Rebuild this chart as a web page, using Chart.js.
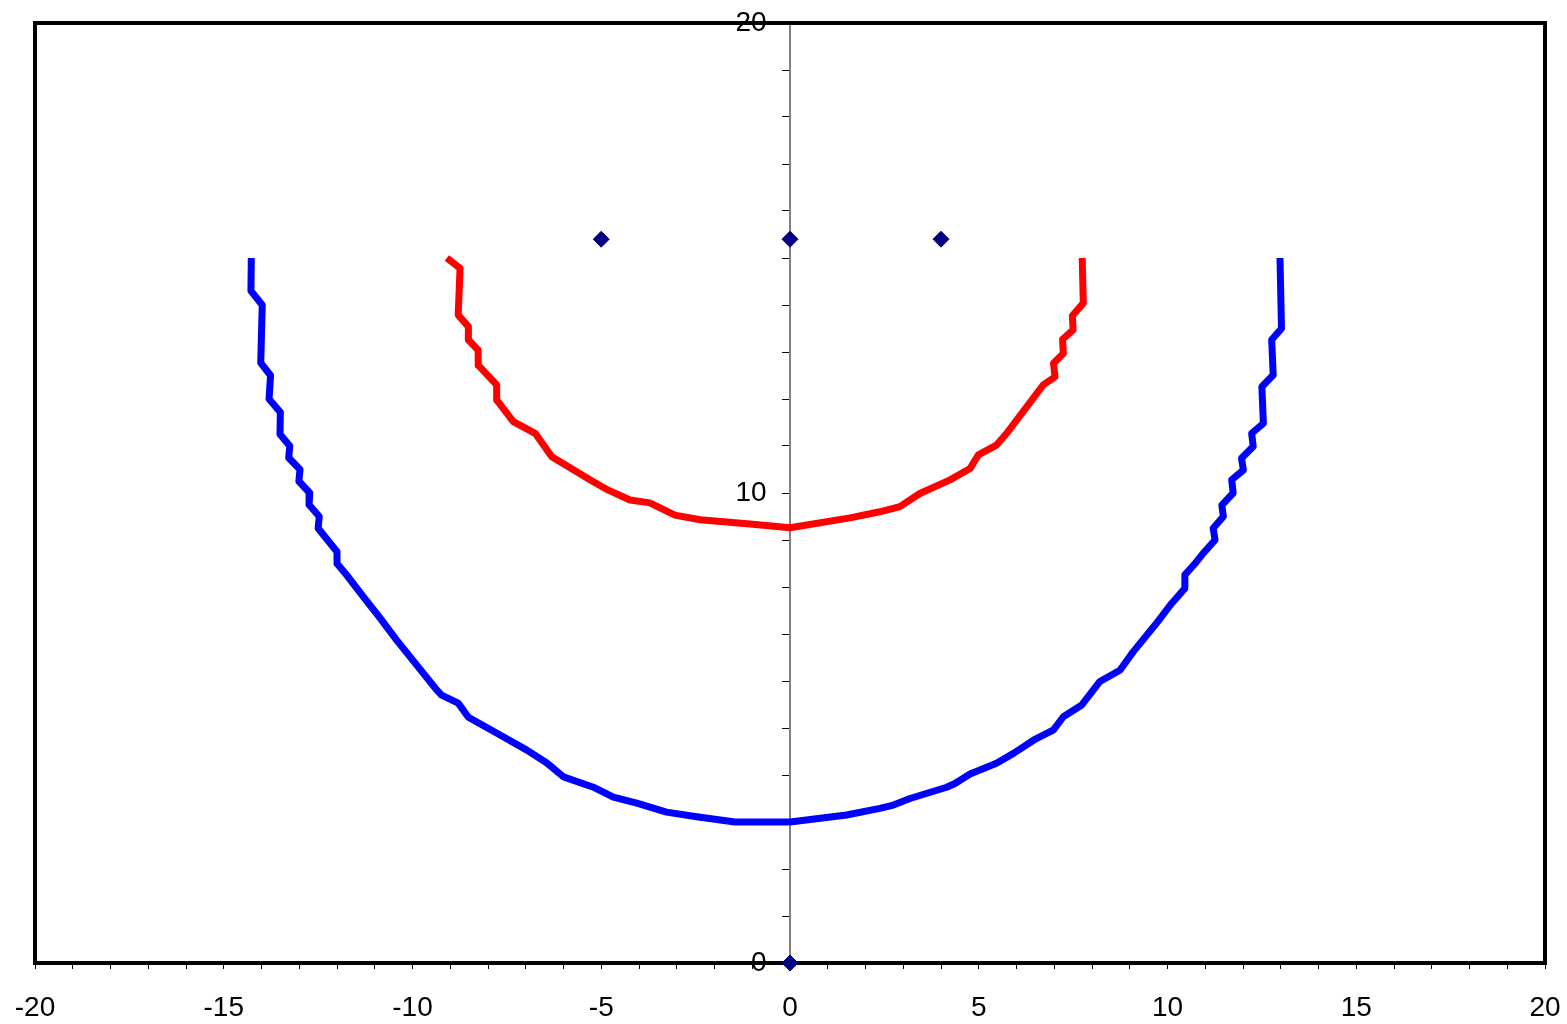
<!DOCTYPE html>
<html>
<head>
<meta charset="utf-8">
<script src="https://cdn.jsdelivr.net/npm/chart.js@4/dist/chart.umd.min.js"></script>
<style>
    body { margin: 0; background: #fff; }
    canvas { display: block; }
</style>
</head>
<body>
<canvas id="chart" width="1567" height="1024"></canvas>
<script>
// outer (blue) curve
let blueX = [
    -14.27, -14.28, -13.98, -14.02, -13.76, -13.80, -13.50, -13.51, -13.25, -13.28,
    -12.98, -13.01, -12.72, -12.74, -12.47, -12.50, -12.00, -12.00, -11.74, -11.31,
    -10.86, -10.42, -9.93, -9.40, -9.23, -8.79, -8.52, -7.68, -6.97, -6.45,
    -6.00, -5.21, -4.68, -4.06, -3.27, -2.47, -1.46, 0, 1.50, 2.38,
    2.74, 3.18, 4.15, 4.37, 4.77, 5.47, 5.92, 6.45, 6.98, 7.24,
    7.73, 8.21, 8.74, 9.09, 9.67, 10.11, 10.46, 10.46, 10.73, 10.95,
    11.26, 11.21, 11.48, 11.44, 11.74, 11.70, 12.01, 11.96, 12.27, 12.23,
    12.54, 12.50, 12.80, 12.76, 13.02, 12.98
];
let blueY = [
    15.0, 14.3, 14.0, 12.77, 12.5, 12.0, 11.72, 11.25, 11.0, 10.75,
    10.5, 10.25, 10.0, 9.75, 9.5, 9.25, 8.75, 8.5, 8.25, 7.8,
    7.34, 6.87, 6.38, 5.85, 5.7, 5.53, 5.23, 4.85, 4.53, 4.26,
    3.96, 3.74, 3.53, 3.4, 3.21, 3.11, 3.0, 3.0, 3.15, 3.29,
    3.36, 3.5, 3.74, 3.82, 4.02, 4.25, 4.46, 4.74, 4.96, 5.24,
    5.49, 5.99, 6.23, 6.62, 7.19, 7.65, 7.97, 8.26, 8.5, 8.72,
    9.0, 9.25, 9.5, 9.74, 10.0, 10.28, 10.49, 10.74, 10.99, 11.27,
    11.48, 12.26, 12.51, 13.26, 13.5, 15.0
];

// inner (red) curve
let redX = [
    -9.09, -8.74, -8.79, -8.52, -8.52, -8.26, -8.26, -7.77, -7.77, -7.33,
    -6.75, -6.31, -5.21, -4.81, -4.24, -3.71, -3.05, -2.38, -1.06, 0,
    1.59, 2.38, 2.91, 3.44, 4.24, 4.77, 4.99, 5.47, 5.74, 6.71,
    7.02, 6.98, 7.24, 7.22, 7.50, 7.48, 7.77, 7.74
];
let redY = [
    15.0, 14.78, 13.79, 13.54, 13.26, 13.04, 12.72, 12.3, 11.98, 11.52,
    11.27, 10.77, 10.24, 10.06, 9.85, 9.79, 9.53, 9.43, 9.34, 9.26,
    9.47, 9.6, 9.71, 9.99, 10.28, 10.52, 10.81, 11.02, 11.27, 12.3,
    12.47, 12.76, 12.97, 13.27, 13.47, 13.77, 14.04, 15.0
];

// single markers
let markX = [-5, 0, 4, 0];
let markY = [15.4, 15.4, 15.4, 0];

// axis ranges and labelled ticks
let xMin = -20, xMax = 20, xLabelStep = 5;
let yMin = 0, yMax = 20, yLabelStep = 10;

function toPoints(xs, ys) {
    let pts = [];
    for (let i = 0; i < xs.length; i++) {
        pts.push({x: xs[i], y: ys[i]});
    }
    return pts;
}

// thick black box around the plot area
const frame = {
    id: 'frame',
    beforeDatasetsDraw(chart) {
        let a = chart.chartArea;
        let ctx = chart.ctx;
        ctx.save();
        ctx.strokeStyle = '#000';
        ctx.lineWidth = 4;
        ctx.strokeRect(a.left, a.top, a.right - a.left, a.bottom - a.top);
        ctx.restore();
    }
};

Chart.defaults.font.family = '"Liberation Sans", Arial, sans-serif';
Chart.defaults.font.size = 28;
Chart.defaults.color = '#000';

let ctx = document.getElementById('chart').getContext('2d');
let chart = new Chart(ctx, {
    type: 'scatter',
    data: {
        datasets: [{
            data: toPoints(blueX, blueY),
            showLine: true,
            borderColor: '#0000ff',
            borderWidth: 7,
            borderJoinStyle: 'round',
            pointRadius: 0,
            tension: 0
        }, {
            data: toPoints(redX, redY),
            showLine: true,
            borderColor: '#ff0000',
            borderWidth: 7,
            borderJoinStyle: 'round',
            pointRadius: 0,
            tension: 0
        }, {
            data: toPoints(markX, markY),
            showLine: false,
            pointStyle: 'rectRot',
            pointRadius: 8,
            pointBorderWidth: 1,
            pointBackgroundColor: '#000080',
            pointBorderColor: '#000080',
            clip: false
        }]
    },
    options: {
        responsive: false,
        animation: false,
        events: [],
        layout: {padding: {top: 23, left: 35, right: 22, bottom: 0}},
        plugins: {
            legend: {display: false},
            tooltip: {enabled: false}
        },
        scales: {
            x: {
                type: 'linear',
                position: 'bottom',
                min: xMin,
                max: xMax,
                border: {display: false},
                grid: {drawOnChartArea: false, drawTicks: true, tickLength: 6, color: '#000'},
                ticks: {
                    stepSize: 1,
                    autoSkip: false,
                    maxRotation: 0,
                    padding: 22,
                    callback: v => (v % xLabelStep === 0 ? String(v) : '')
                },
                afterFit: scale => {
                    scale.height = 61;
                    scale.paddingLeft = 0;
                    scale.paddingRight = 0;
                }
            },
            y: {
                type: 'linear',
                position: {x: 0},
                min: yMin,
                max: yMax,
                border: {display: true, color: '#808080', width: 2},
                grid: {drawOnChartArea: false, drawTicks: true, tickLength: 7, color: '#000'},
                ticks: {
                    stepSize: 1,
                    autoSkip: false,
                    padding: 0,
                    // labels sit left of the centred axis
                    callback: v => (v % yLabelStep === 0 ? String(v) + '   ' : '')
                },
                afterFit: scale => {
                    scale.paddingTop = 0;
                    scale.paddingBottom = 0;
                }
            }
        }
    },
    plugins: [frame]
});
</script>
</body>
</html>
